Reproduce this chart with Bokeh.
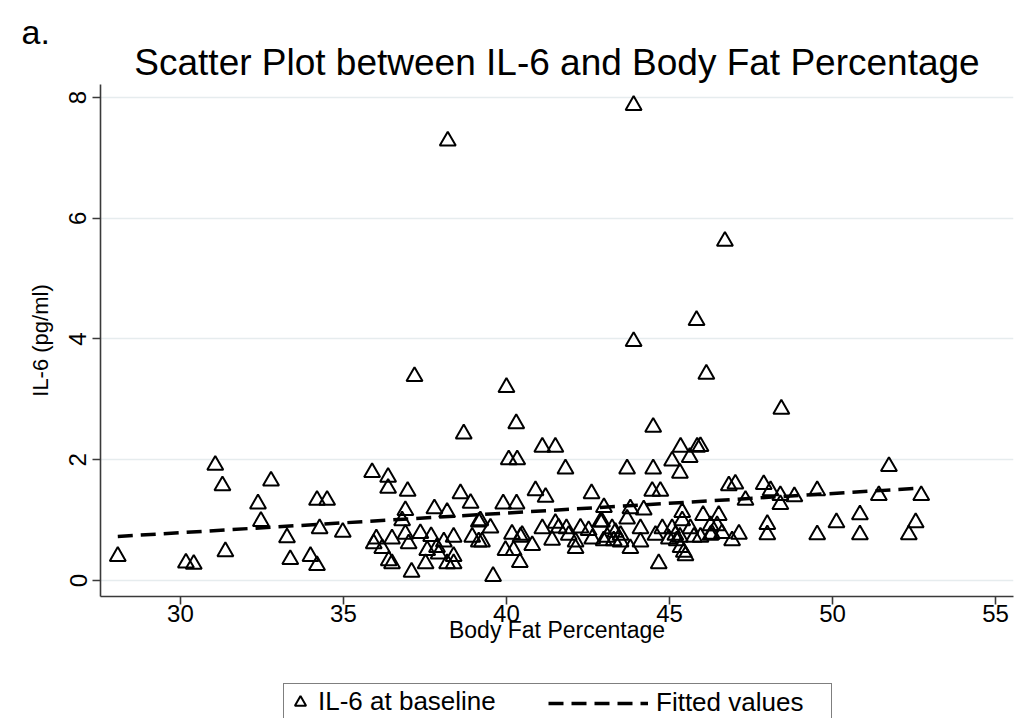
from bokeh.plotting import figure
from bokeh.layouts import column
from bokeh.models import (ColumnDataSource, FixedTicker, Legend, LegendItem, Title, Range1d)
from bokeh.embed import file_html
from bokeh.resources import INLINE

# ---- data ----
body_fat = [38.2, 43.9, 46.7, 45.83, 43.9, 46.13, 37.18, 40.0, 48.43, 40.3,
            44.5, 38.69, 41.1, 41.5, 45.34, 45.85, 45.95, 40.07, 40.33, 45.08,
            45.62, 31.07, 51.73, 41.81, 43.7, 44.5, 35.88, 45.32, 36.37, 32.78,
            31.29, 36.37, 46.82, 47.02, 47.89, 36.97, 40.89, 44.47, 44.72, 48.1,
            49.53, 38.59, 42.61, 48.4, 51.42, 52.72, 48.83, 41.2, 34.19, 34.5,
            47.33, 32.38, 38.9, 39.9, 40.31, 48.4, 42.99, 43.8, 37.79, 44.21,
            36.9, 38.18, 45.39, 50.84, 46.03, 46.51, 43.7, 36.8, 45.39, 39.2,
            32.47, 39.15, 42.88, 42.93, 50.12, 52.55, 41.5, 48.0, 46.26, 46.46,
            39.51, 41.6, 42.27, 34.27, 41.1, 41.84, 43.24, 44.11, 44.78, 45.08,
            45.64, 42.52, 34.98, 43.34, 37.36, 46.61, 36.9, 40.17, 46.3, 47.13,
            48.0, 49.53, 50.84, 52.34, 40.48, 41.91, 43.5, 44.57, 45.18, 46.26,
            37.69, 33.27, 36.01, 36.49, 38.38, 38.95, 40.43, 43.09, 45.32, 45.75,
            45.95, 42.63, 44.98, 43.29, 42.98, 45.22, 46.92, 41.4, 35.93, 37.0,
            38.08, 39.15, 39.25, 42.12, 43.5, 44.11, 40.79, 36.19, 37.87, 42.12,
            43.8, 45.34, 37.57, 39.97, 40.22, 31.38, 45.44, 37.92, 45.49, 28.08,
            33.99, 38.38, 33.37, 36.39, 40.41, 30.17, 30.41, 36.49, 37.52, 38.18,
            38.38, 44.67, 34.19, 37.09, 39.59]
il6 = [7.28, 7.87, 5.62, 4.31, 3.96, 3.42, 3.38, 3.20, 2.84, 2.60,
       2.54, 2.43, 2.21, 2.21, 2.21, 2.21, 2.22, 2.00, 2.00, 1.98,
       2.04, 1.91, 1.89, 1.85, 1.85, 1.85, 1.79, 1.78, 1.71, 1.65,
       1.57, 1.53, 1.57, 1.60, 1.59, 1.48, 1.49, 1.48, 1.48, 1.49,
       1.49, 1.44, 1.44, 1.41, 1.41, 1.41, 1.39, 1.38, 1.33, 1.33,
       1.33, 1.27, 1.28, 1.27, 1.27, 1.26, 1.21, 1.19, 1.19, 1.17,
       1.16, 1.13, 1.13, 1.09, 1.08, 1.08, 1.02, 0.99, 0.99, 0.99,
       0.98, 0.97, 0.97, 0.97, 0.96, 0.96, 0.95, 0.93, 0.91, 0.91,
       0.87, 0.87, 0.87, 0.86, 0.86, 0.86, 0.86, 0.86, 0.86, 0.86,
       0.86, 0.83, 0.80, 0.80, 0.78, 0.78, 0.77, 0.77, 0.77, 0.77,
       0.76, 0.76, 0.76, 0.76, 0.75, 0.75, 0.75, 0.75, 0.75, 0.75,
       0.73, 0.71, 0.69, 0.69, 0.72, 0.72, 0.72, 0.72, 0.72, 0.72,
       0.72, 0.69, 0.69, 0.66, 0.66, 0.66, 0.66, 0.67, 0.61, 0.61,
       0.64, 0.64, 0.64, 0.64, 0.64, 0.64, 0.58, 0.53, 0.55, 0.53,
       0.53, 0.55, 0.50, 0.50, 0.50, 0.48, 0.47, 0.44, 0.41, 0.40,
       0.40, 0.40, 0.35, 0.33, 0.30, 0.29, 0.27, 0.28, 0.28, 0.28,
       0.28, 0.28, 0.25, 0.14, 0.07]

fit_x = [28.08, 52.72]
fit_y = [0.73, 1.53]

x_ticks = [30, 35, 40, 45, 50, 55]
y_ticks = [0, 2, 4, 6, 8]

FONT = "Liberation Sans"
DASH = "15 8"
LEFT, RIGHT = 100, 7   # shared borders so both stacked figures keep the same frame

# ---------------- main chart ----------------
p = figure(width=1020, height=660, output_backend="svg", toolbar_location=None, title=None,
           x_range=Range1d(27.55, 55.55), y_range=Range1d(-0.265, 8.215),
           min_border_left=LEFT, min_border_right=RIGHT, min_border_top=84, min_border_bottom=64,
           background_fill_color="white", border_fill_color="white")
p.outline_line_color = None

main_title = Title(text="Scatter Plot between IL-6 and Body Fat Percentage",
                   align="center", text_font=FONT, text_font_size="37px",
                   text_font_style="normal", text_color="black", standoff=3)
p.add_layout(main_title, "above")
panel_title = Title(text="a.", align="left", offset=-79, text_font=FONT,
                    text_font_size="34px", text_font_style="normal", text_color="black",
                    standoff=-24)
p.add_layout(panel_title, "above")

src = ColumnDataSource(dict(x=body_fat, y=il6))
p.scatter("x", "y", source=src, marker="triangle", size=16,
          fill_color=None, line_color="black", line_width=2)
p.line(fit_x, fit_y, line_color="black", line_width=3.5, line_dash=DASH)

for ax in (p.xaxis[0], p.yaxis[0]):
    ax.axis_line_color = "#3a3a3a"
    ax.axis_line_width = 1.6
    ax.major_tick_line_color = "#3a3a3a"
    ax.major_tick_line_width = 1.6
    ax.major_tick_out = 8
    ax.major_tick_in = 0
    ax.minor_tick_line_color = None
    ax.major_label_text_font = FONT
    ax.major_label_text_font_size = "24px"
    ax.major_label_text_color = "black"
    ax.axis_label_text_font = FONT
    ax.axis_label_text_font_style = "normal"
    ax.axis_label_text_color = "black"

p.xaxis.ticker = FixedTicker(ticks=x_ticks)
p.yaxis.ticker = FixedTicker(ticks=y_ticks)
p.xaxis.axis_label = "Body Fat Percentage"
p.yaxis.axis_label = "IL-6 (pg/ml)"
p.xaxis.axis_label_text_font_size = "23px"
p.yaxis.axis_label_text_font_size = "22px"
p.xaxis.major_label_standoff = 0
p.xaxis.axis_label_standoff = -8
p.yaxis.major_label_orientation = "vertical"
p.yaxis.major_label_standoff = 6
p.yaxis.axis_label_standoff = 14

p.xgrid.visible = False
p.ygrid.grid_line_color = "#e6ecee"
p.ygrid.grid_line_width = 1.5

# ---------------- legend strip ----------------
lf = figure(width=1020, height=58, output_backend="svg", toolbar_location=None, title=None,
            x_range=Range1d(0, 1), y_range=Range1d(0, 1),
            x_axis_type=None, y_axis_type=None,
            min_border_left=LEFT, min_border_right=RIGHT, min_border_top=16, min_border_bottom=0,
            background_fill_color="white", border_fill_color="white")
lf.outline_line_color = None
lf.xgrid.visible = False
lf.ygrid.visible = False

leg_pts = lf.scatter("x", "y", source=src, marker="triangle", size=16,
                     fill_color=None, line_color="black", line_width=2, visible=False)
leg_fit = lf.line(fit_x, fit_y, line_color="black", line_width=3.5, line_dash=DASH,
                  visible=False)

common = dict(orientation="horizontal", label_text_font=FONT, label_text_font_size="26px",
              label_text_color="black", margin=0, glyph_height=30, label_height=30)
# boxed legend: first entry, its label area widened so the frame encloses both entries
leg_a = Legend(items=[LegendItem(label="IL-6 at baseline", renderers=[leg_pts])],
               location=(183, -2), glyph_width=28, label_standoff=4, label_width=511,
               padding=2, border_line_color="black", border_line_width=1.2,
               background_fill_color="white", background_fill_alpha=1.0, **common)
# second entry with a long dashed sample, laid over the same box
leg_b = Legend(items=[LegendItem(label="Fitted values", renderers=[leg_fit])],
               location=(448, 0), glyph_width=100, label_standoff=8, padding=0,
               border_line_color=None, background_fill_alpha=0, **common)
lf.add_layout(leg_a, "center")
lf.add_layout(leg_b, "center")

layout = column(p, lf, spacing=0)
open("out.html", "w").write(file_html(layout, INLINE))
